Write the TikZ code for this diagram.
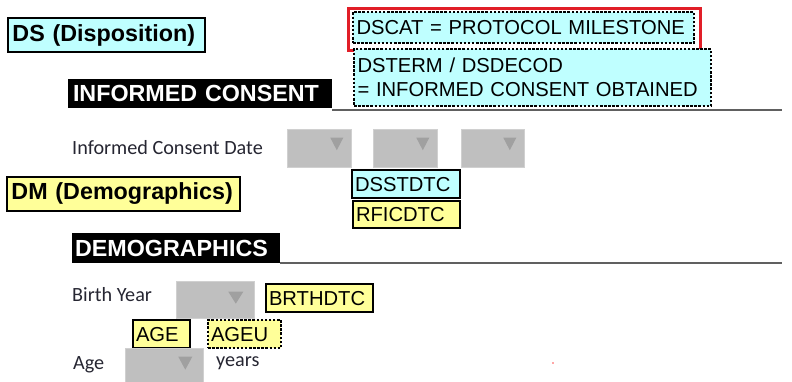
\documentclass[tikz,border=0pt]{standalone}
\usepackage{fontspec}
\setmainfont{Liberation Sans}
\newfontfamily\formfont{Carlito}
\usetikzlibrary{calc}

\definecolor{dscyan}{RGB}{191,255,255}
\definecolor{dmyellow}{RGB}{255,255,153}
\definecolor{ddgray}{RGB}{191,191,191}
\definecolor{ddedge}{RGB}{208,208,208}
\definecolor{ddarrow}{RGB}{160,160,160}
\definecolor{rulegray}{RGB}{96,96,96}
\definecolor{labelink}{RGB}{38,38,50}
\definecolor{frame}{RGB}{225,30,40}

\tikzset{
  varbox/.style={draw=black, line width=1.4pt, inner ysep=0pt, align=left,
    font=\fontsize{20.2}{24}\selectfont},
  oneline/.style={text depth=0pt},
  dottedbox/.style={varbox, line width=1.5pt, dash pattern=on 2.5pt off 1.6pt},
  dsfill/.style={fill=dscyan},
  dmfill/.style={fill=dmyellow},
  domainbox/.style={draw=black, line width=1.5pt, inner ysep=0pt, align=left,
    font=\fontsize{23.3}{26}\selectfont\bfseries},
  sectionbar/.style={fill=black, text=white, inner ysep=0pt, align=left,
    font=\fontsize{23.3}{26}\selectfont\bfseries},
  sectionrule/.style={draw=rulegray, line width=2pt},
  formlabel/.style={anchor=base west, inner sep=0pt, text=labelink,
    font=\fontsize{20.2}{24}\formfont},
  dropdown/.style={draw=ddedge, fill=ddgray, line width=0.6pt, inner sep=0pt},
  ddtri/.style={fill=ddarrow},
}

\begin{document}
\begin{tikzpicture}[x=1pt,y=-1pt]
\useasboundingbox (0,0) rectangle (792,381);

% ---------- DS domain ----------
\node[domainbox, dsfill, minimum width=197, minimum height=34,
      inner xsep=4.5pt, text width=188pt] (ds) at (106.5,35) {\mbox{DS (Disposition)}};

\node[draw=frame, line width=3pt, minimum width=352, minimum height=42,
      inner sep=0pt] (milestoneframe) at (524.5,29.5) {};
\node[dottedbox, oneline, dsfill, minimum width=341, minimum height=31,
      inner xsep=3.5pt, text width=334pt] (dscat) at (523.5,27.5)
      {DSCAT = PROTOCOL MILESTONE};
\node[dottedbox, dsfill, minimum width=357, minimum height=57,
      inner xsep=3.5pt, text width=350pt, text height=15pt, text depth=25pt]
      (dsterm) at (532.5,77.5)
      {DSTERM / DSDECOD\\= INFORMED CONSENT OBTAINED};

% ---------- Informed consent section ----------
\node[sectionbar, minimum width=264, minimum height=29,
      inner xsep=5pt, text width=254pt] (icbar) at (200,93.5) {\mbox{INFORMED CONSENT}};
\coordinate (icruleend) at (782,109.5);
\draw[sectionrule] (icbar.east |- icruleend) -- (icruleend);

\node[formlabel] (icdate) at (72,154) {Informed Consent Date};

\node[dropdown, minimum width=64, minimum height=38] (icday) at (319,148) {};
\node[dropdown, minimum width=64, minimum height=38] (icmon) at (405,148) {};
\node[dropdown, minimum width=63, minimum height=38] (icyear) at (492.5,148) {};
\foreach \d in {icday,icmon,icyear}
  \fill[ddtri] ($(\d.north east)+(-8,9)$) -- ++(-13,0) -- ++(6.5,12.5) -- cycle;

\node[varbox, oneline, dsfill, minimum width=108, minimum height=28,
      inner xsep=3pt, text width=102pt] (dsstdtc) at (406,184) {DSSTDTC};
\node[varbox, oneline, dmfill, minimum width=107, minimum height=27,
      inner xsep=3pt, text width=101pt] (rficdtc) at (406.5,214.5) {RFICDTC};

% ---------- DM domain ----------
\node[domainbox, dmfill, minimum width=233, minimum height=34,
      inner xsep=4.5pt, text width=224pt] (dm) at (123.5,194) {\mbox{DM (Demographics)}};

% ---------- Demographics section ----------
\node[sectionbar, minimum width=208, minimum height=30,
      inner xsep=3pt, text width=202pt] (dmbar) at (176,248) {\mbox{DEMOGRAPHICS}};
\coordinate (dmruleend) at (782,262.5);
\draw[sectionrule] (dmbar.east |- dmruleend) -- (dmruleend);

\node[formlabel] (birthyear) at (72,301) {Birth Year};
\node[dropdown, minimum width=78, minimum height=37] (byear) at (215,299.5) {};
\fill[ddtri] ($(byear.north east)+(-11,11)$) -- ++(-15,0) -- ++(7.5,12) -- cycle;

\node[varbox, oneline, dmfill, minimum width=107, minimum height=28,
      inner xsep=3pt, text width=101pt] (brthdtc) at (319.5,298) {BRTHDTC};

\node[varbox, oneline, dmfill, minimum width=57, minimum height=28,
      inner xsep=3pt, text width=51pt] (age) at (161.5,334) {AGE};
\node[dottedbox, oneline, dmfill, minimum width=73, minimum height=28,
      inner xsep=3pt, text width=67pt] (ageu) at (244.5,334) {AGEU};

\node[formlabel] (agelabel) at (73,369) {Age};
\node[dropdown, minimum width=78, minimum height=36] (agebox) at (164,366) {};
\fill[ddtri] ($(agebox.north east)+(-11,9)$) -- ++(-14,0) -- ++(7,13) -- cycle;
\node[formlabel] (years) at (216,366) {years};

% stray mark near the bottom edge
\fill[red!70] (553,363) circle (0.9);
\end{tikzpicture}
\end{document}
